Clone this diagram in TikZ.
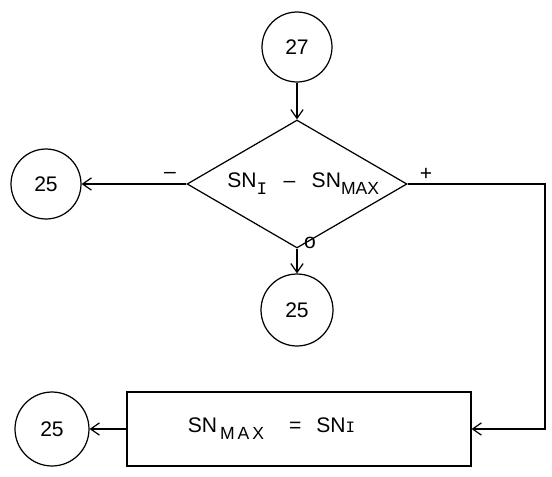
\documentclass[tikz,border=0pt]{standalone}
\usepackage{fontspec}
\setmainfont{Liberation Sans}
\newfontfamily\barfont{Liberation Mono}
\usetikzlibrary{shapes.geometric,arrows.meta}

\tikzset{
  conn/.style={circle, draw, minimum size=1.4cm, inner sep=0pt},
  decide/.style={diamond, draw, aspect=1.72, minimum width=4.4cm, minimum height=2.56cm, inner sep=0pt},
  assign/.style={rectangle, draw, minimum width=6.88cm, minimum height=1.48cm},
  flow/.style={-{Straight Barb[length=5pt,width=7pt]}},
  sgn/.style={inner sep=1pt}
}
\newcommand{\lowsub}[1]{\raisebox{-4pt}{\fontsize{10}{12}\selectfont #1}}

\begin{document}
\begin{tikzpicture}[x=0.02cm, y=-0.02cm, line width=0.7pt, font=\fontsize{12}{14}\selectfont]
  \useasboundingbox (0,0) rectangle (552,477);

  \node[conn] (c27) at (297,47) {27};
  \node[decide] (dec) at (297,184) {\hspace{0.25cm}SN\lowsub{\barfont I}\enspace\ --\enspace\ SN\lowsub{MAX}};
  \node[conn] (cleft) at (46,184) {25};
  \node[conn, minimum size=1.44cm] (cdown) at (297,310) {25};
  \node[assign] (box) at (299,429) {SN\lowsub{\,M\,A\,X}\hspace{0.5cm}=\hspace{0.3cm}SN{\barfont\small I}\hspace{1.1cm}\null};
  \node[conn, minimum size=1.48cm] (cbox) at (52,429) {25};
  \coordinate (turn) at (545,0);

  \draw[flow] (c27) -- (dec.north);
  \draw[flow] (dec.west) -- (cleft);
  \draw[flow] (dec.south) -- (cdown);
  \draw[flow] (dec.east) -| (turn |- box.east) -- (box.east);
  \draw[flow] (box.west) -- (cbox);

  % signs on the branches
  \node[sgn] (minus) at (170,175) {--};
  \node[sgn] (plus) at (426,174) {+};
  \node[sgn] (zero) at (310,243) {o};
\end{tikzpicture}
\end{document}
